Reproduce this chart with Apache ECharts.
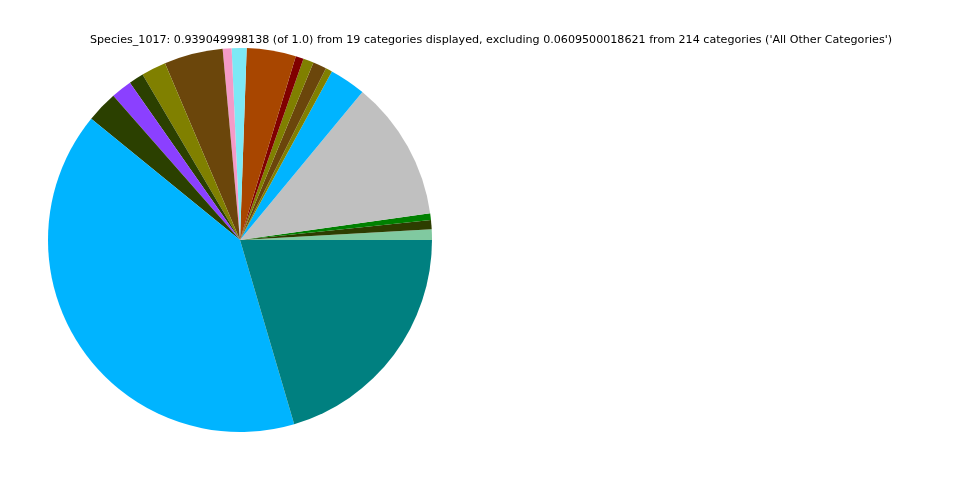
<!DOCTYPE html>
<html>
<head>
<meta charset="utf-8">
<script src="https://cdn.jsdelivr.net/npm/echarts@6/dist/echarts.min.js"></script>
<style>html,body{margin:0;padding:0;background:#fff}#c{width:960px;height:480px}</style>
</head>
<body>
<div id="c"></div>
<script>
const titleText = "Species_1017: 0.939049998138 (of 1.0) from 19 categories displayed, excluding 0.0609500018621 from 214 categories ('All Other Categories')";
const categories = ["C1","C2","C3","C4","C5","C6","C7","C8","C9","C10","C11","C12","C13","C14","C15","C16","C17","C18","C19"];
const values = [0.00835,0.00730,0.00522,0.1106,0.0287,0.00522,0.01069,0.00835,0.00626,0.03887,0.01174,0.00704,0.04643,0.01956,0.01174,0.01643,0.02478,0.3798,0.1920];
const colors = ["#80c9a0","#2d3d00","#008000","#c0c0c0","#00b4ff","#808000","#6b460b","#808000","#800000","#a84600","#7de8f5","#f49ac8","#6b460b","#808000","#2b4000","#8b40ff","#2b4000","#00b4ff","#008080"];

const chart = echarts.init(document.getElementById('c'), null, {renderer:'canvas'});
chart.setOption({
  animation: false,
  backgroundColor: '#ffffff',
  title: {
    text: titleText,
    left: 85, top: 30,
    textStyle: {fontFamily: 'DejaVu Sans', fontSize: 11.12, fontWeight: 'normal', color: '#000'}
  },
  series: [{
    type: 'pie',
    center: [240, 240],
    radius: [0, 192],
    startAngle: 0,
    clockwise: false,
    minAngle: 0,
    avoidLabelOverlap: false,
    label: {show: false},
    labelLine: {show: false},
    emphasis: {disabled: true},
    itemStyle: {borderWidth: 0},
    data: categories.map((c, i) => ({name: c, value: values[i], itemStyle: {color: colors[i]}}))
  }]
});
</script>
</body>
</html>
